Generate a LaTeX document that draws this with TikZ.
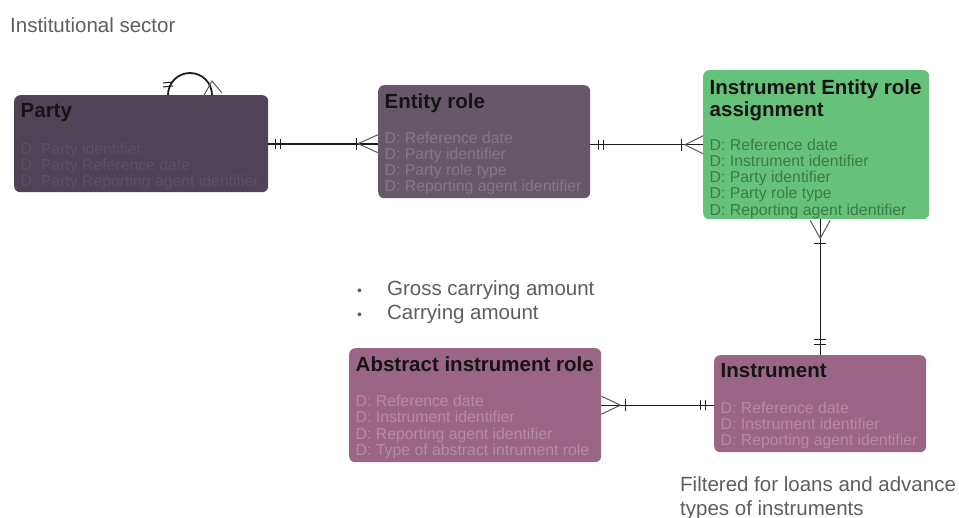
\documentclass[tikz,border=0pt]{standalone}
\usepackage{fontspec}
\setmainfont{Liberation Sans}
\usetikzlibrary{calc}

\definecolor{partycol}{HTML}{4F4356}
\definecolor{partytxt}{HTML}{5E5164}
\definecolor{rolecol}{HTML}{665869}
\definecolor{roletxt}{HTML}{837786}
\definecolor{assigncol}{HTML}{66C27A}
\definecolor{assigntxt}{HTML}{3C7B4A}
\definecolor{instrcol}{HTML}{9B6586}
\definecolor{instrtxt}{HTML}{B58BA3}
\definecolor{titlecol}{HTML}{141414}
\definecolor{notecol}{HTML}{5E5E5E}
\definecolor{linecol}{HTML}{1E1E1E}
\definecolor{crowcol}{HTML}{5A5A5A}

\newcommand{\enttitle}[1]{{\fontsize{20.5}{22}\selectfont\bfseries\color{titlecol}#1}}
% width, height, top padding, content
\newcommand{\entbox}[4]{\parbox[c][#2][t]{#1}{\raggedright\vspace*{#3}#4}}

\begin{document}
\begin{tikzpicture}[x=1pt,y=-1pt,
  entity/.style={anchor=north west,rounded corners=6pt,inner xsep=6.5pt,inner ysep=0pt,
    font=\fontsize{15.8}{16.2}\selectfont},
  note/.style={anchor=north west,align=left,inner sep=0pt,text=notecol,font=\fontsize{20.5}{24}\selectfont},
  rel/.style={draw=linecol,line width=1.3pt},
  erbar/.style={draw=linecol,line width=1pt},
  crow/.style={draw=crowcol,line width=1pt}]

  \useasboundingbox (0,0) rectangle (959,518);

  \node[note] (sector) at (10,17) {Institutional sector};

  \node[entity,fill=partycol,text=partytxt] (party) at (14,95)
    {\entbox{241pt}{97pt}{8pt}{\enttitle{Party}\\[20.5pt]
     D: Party identifier\\ D: Party Reference date\\ D: Party Reporting agent identifier}};

  \node[entity,fill=rolecol,text=roletxt] (entrole) at (378,85)
    {\entbox{199pt}{113pt}{8.5pt}{\enttitle{Entity role}\\[18.5pt]
     D: Reference date\\ D: Party identifier\\ D: Party role type\\ D: Reporting agent identifier}};

  \node[entity,fill=assigncol,text=assigntxt] (assign) at (703,70)
    {\entbox{213pt}{149pt}{9.5pt}{\enttitle{Instrument Entity role}\\[2pt] \enttitle{assignment}\\[17.5pt]
     D: Reference date\\ D: Instrument identifier\\ D: Party identifier\\ D: Party role type\\
     D: Reporting agent identifier}};

  \node[entity,fill=instrcol,text=instrtxt] (abstract) at (349,348)
    {\entbox{239pt}{114pt}{8.5pt}{\enttitle{Abstract instrument role}\\[19pt]
     D: Reference date\\ D: Instrument identifier\\ D: Reporting agent identifier\\
     D: Type of abstract intrument role}};

  \node[entity,fill=instrcol,text=instrtxt] (instr) at (714,355)
    {\entbox{199pt}{97pt}{8pt}{\enttitle{Instrument}\\[19.5pt]
     D: Reference date\\ D: Instrument identifier\\ D: Reporting agent identifier}};

  \node[note] (measures) at (357,280)
    {{\fontsize{14}{14}\selectfont\textbullet}\hspace{25pt}Gross carrying amount\\
     {\fontsize{14}{14}\selectfont\textbullet}\hspace{25pt}Carrying amount};

  \node[note] (filter) at (680,476) {Filtered for loans and advance\\types of instruments};

  % party -- entity role
  \coordinate (pr) at (party.east -| entrole.west);
  \draw[rel,line width=2pt] (party.east) -- (pr);
  \draw[erbar] ($(party.east)+(7,-5)$) -- ++(0,10) ($(party.east)+(12,-5)$) -- ++(0,10);
  \draw[erbar] ($(pr)+(-22,-6)$) -- ++(0,12);
  \draw[crow] ($(pr)+(0,-9)$) -- ++(-20,9) -- ($(pr)+(0,9)$);

  % entity role -- assignment
  \coordinate (ra) at (entrole.east |- assign.west);
  \coordinate (ar) at (assign.west);
  \draw[rel] (ra) -- (ar);
  \draw[erbar] ($(ra)+(8,-5)$) -- ++(0,10) ($(ra)+(13,-5)$) -- ++(0,10);
  \draw[erbar] ($(ar)+(-22,-6)$) -- ++(0,12);
  \draw[crow] ($(ar)+(0,-9)$) -- ++(-18,9) -- ($(ar)+(0,9)$);

  % assignment -- instrument
  \coordinate (ai) at (instr.north |- assign.south);
  \draw[rel] (ai) -- (instr.north);
  \draw[crow] ($(ai)+(-10,1)$) -- ++(10,18) -- ($(ai)+(10,1)$);
  \draw[erbar] ($(ai)+(-6,24)$) -- ++(12,0);
  \draw[erbar] ($(instr.north)+(-6,-15)$) -- ++(12,0) ($(instr.north)+(-6,-10)$) -- ++(12,0);

  % abstract role -- instrument
  \coordinate (ab) at (abstract.east);
  \coordinate (in) at (abstract.east -| instr.west);
  \draw[rel] (ab) -- (in);
  \draw[crow] ($(ab)+(0,-9)$) -- ++(19,9) -- ($(ab)+(0,9)$);
  \draw[erbar] ($(ab)+(24,-6)$) -- ++(0,12);
  \draw[erbar] ($(in)+(-14,-5)$) -- ++(0,10) ($(in)+(-9,-5)$) -- ++(0,10);

  % party self relation
  \coordinate (loopa) at ($(party.north west)+(154,0)$);
  \draw[rel,line width=1.8pt] (loopa) arc (180:360:22) coordinate (loopb);
  \draw[erbar] ($(loopa)+(-5,-12)$) -- ++(10,-1) ($(loopa)+(-5,-8)$) -- ++(10,-1);
  \draw[crow] ($(loopb)+(-9,2)$) -- ($(loopb)+(0,-14)$) -- ($(loopb)+(10,-2)$);
\end{tikzpicture}
\end{document}
